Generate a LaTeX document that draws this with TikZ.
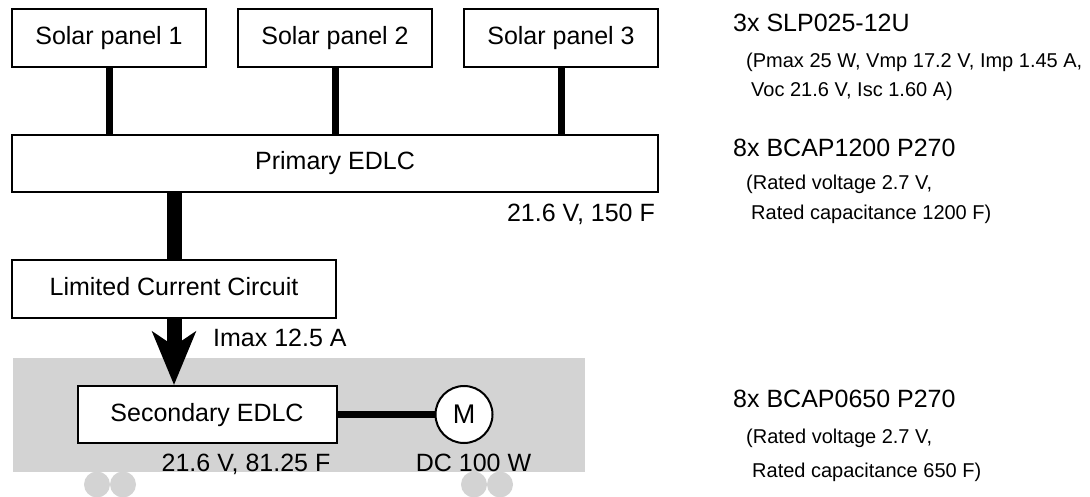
\documentclass[tikz,border=0pt]{standalone}
\usepackage{fontspec}
\setmainfont{Liberation Sans}
\usetikzlibrary{arrows.meta}
\definecolor{panelgrey}{HTML}{D3D3D3}
\tikzset{
  x=1pt,y=-1pt,
  boxnode/.style={draw=black,fill=white,line width=2pt,inner sep=0pt,text height=18pt,text depth=5pt,font=\fontsize{25}{29}\selectfont,anchor=center},
  thinbar/.style={line width=7pt,draw=black},
  thickbar/.style={line width=15pt,draw=black},
  label/.style={inner sep=0pt,font=\fontsize{25}{29}\selectfont,anchor=base west},
  labelr/.style={inner sep=0pt,font=\fontsize{25}{29}\selectfont,anchor=base east},
  labelc/.style={inner sep=0pt,font=\fontsize{25}{29}\selectfont,anchor=base},
  small/.style={inner sep=0pt,font=\fontsize{20}{24}\selectfont,anchor=base west},
}
\begin{document}
\begin{tikzpicture}
\useasboundingbox (0,0) rectangle (1090,497);
\fill[panelgrey] (97,484.5) circle (13);
\fill[panelgrey] (123,484.5) circle (13);
\fill[panelgrey] (474,484.5) circle (13);
\fill[panelgrey] (500,484.5) circle (13);
\fill[panelgrey] (13,358) rectangle (585,472);

\node[boxnode,minimum width=194pt,minimum height=58pt] (s1) at (109,38.5) {Solar panel 1};
\node[boxnode,minimum width=194pt,minimum height=58pt] (s2) at (335,38.5) {Solar panel 2};
\node[boxnode,minimum width=194pt,minimum height=58pt] (s3) at (561,38.5) {Solar panel 3};
\node[boxnode,minimum width=646pt,minimum height=57pt] (p) at (335,163.5) {Primary EDLC};
\node[boxnode,minimum width=324pt,minimum height=58pt] (l) at (174,289) {Limited Current Circuit};
\node[boxnode,minimum width=259pt,minimum height=57pt] (e) at (207,414.5) {Secondary EDLC};
\node[draw=black,fill=white,line width=2pt,circle,minimum size=57pt,inner sep=0pt,font=\fontsize{27}{31}\selectfont] (m) at (464,414.5) {M};

\draw[thinbar] (s1.south) -- (s1.south |- p.north);
\draw[thinbar] (s2.south) -- (s2.south |- p.north);
\draw[thinbar] (s3.south) -- (s3.south |- p.north);
\draw[thickbar] (l.north |- p.south) -- (l.north);
\draw[thickbar,-{Stealth[length=53pt,width=43pt,inset=14pt]}] (l.south) -- (l.south |- e.north);
\draw[line width=7pt] (e.east) -- (m.west);

\node[labelr] (lp) at (655,222) {21.6 V, 150 F};
\node[label] (li) at (213,346) {Imax 12.5 A};
\node[labelc] (le) at (246,471) {21.6 V, 81.25 F};
\node[labelc] (lm) at (473.5,471) {DC 100 W};

\node[label] (a1) at (733,32) {3x SLP025-12U};
\node[small] (a2) at (746,68) {(Pmax 25 W, Vmp 17.2 V, Imp 1.45 A,};
\node[small] (a3) at (751,97) {Voc 21.6 V, Isc 1.60 A)};
\node[label] (b1) at (733,157) {8x BCAP1200 P270};
\node[small] (b2) at (746,190) {(Rated voltage 2.7 V,};
\node[small] (b3) at (751,220) {Rated capacitance 1200 F)};
\node[label] (c1) at (733,407) {8x BCAP0650 P270};
\node[small] (c2) at (746,443) {(Rated voltage 2.7 V,};
\node[small] (c3) at (752,477) {Rated capacitance 650 F)};
\end{tikzpicture}
\end{document}
